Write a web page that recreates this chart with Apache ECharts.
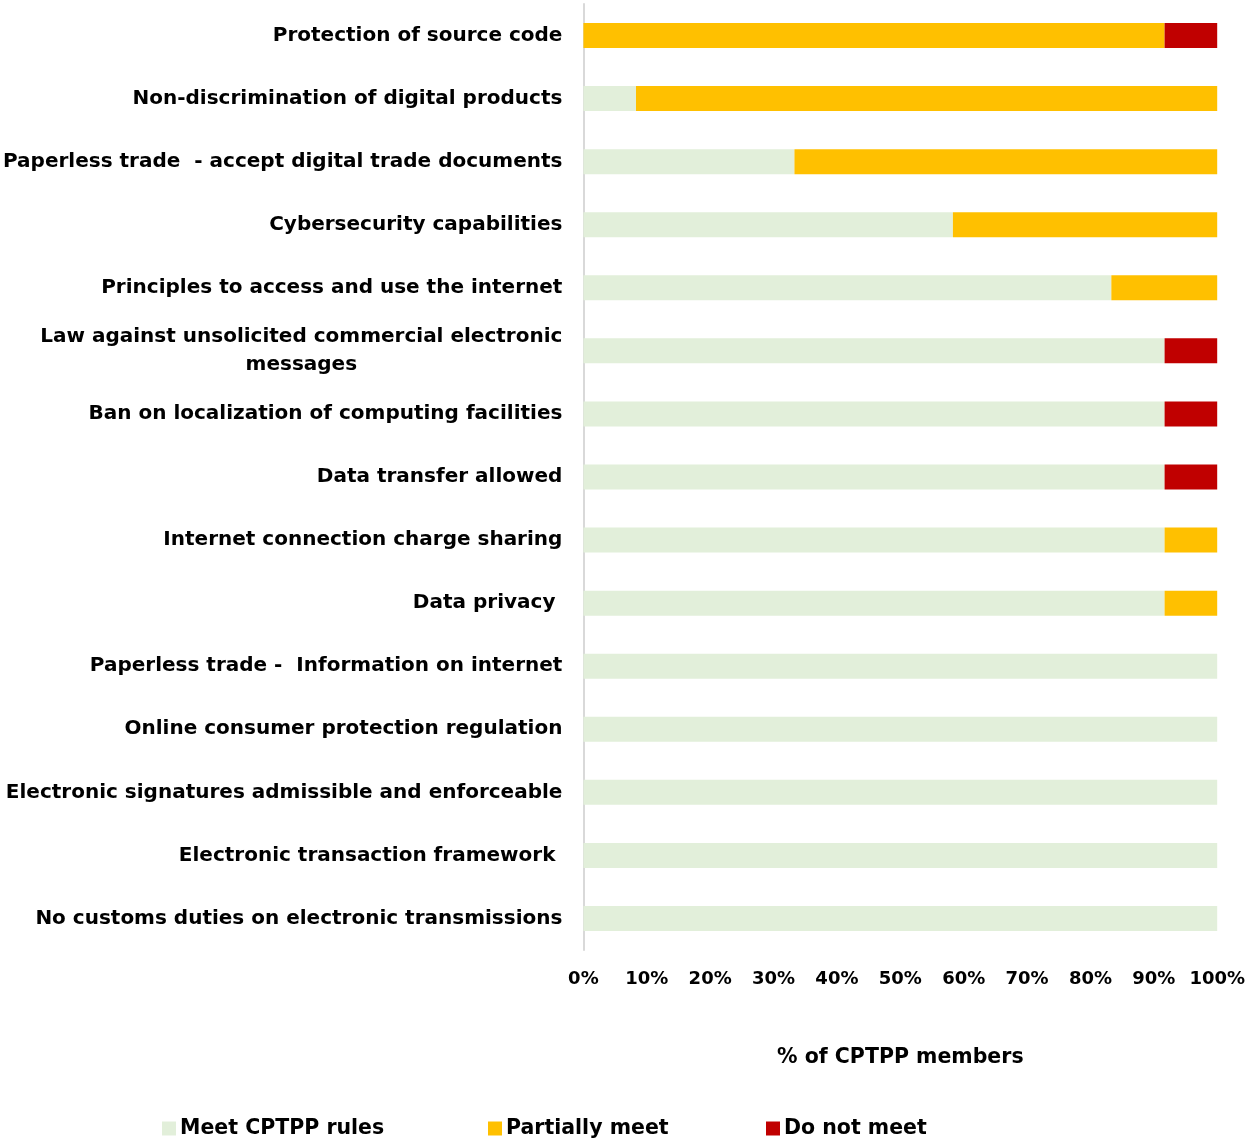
<!DOCTYPE html>
<html>
<head>
<meta charset="utf-8">
<script src="https://cdn.jsdelivr.net/npm/echarts@6/dist/echarts.min.js"></script>
<style>
html,body{margin:0;padding:0;background:#fff;}
#chart{width:1248px;height:1142px;}
</style>
</head>
<body>
<div id="chart"></div>
<script>
const categories = [
  "Protection of source code",
  "Non-discrimination of digital products",
  "Paperless trade  - accept digital trade documents",
  "Cybersecurity capabilities",
  "Principles to access and use the internet",
  "Law against unsolicited commercial electronic\nmessages",
  "Ban on localization of computing facilities",
  "Data transfer allowed",
  "Internet connection charge sharing",
  "Data privacy ",
  "Paperless trade -  Information on internet",
  "Online consumer protection regulation",
  "Electronic signatures admissible and enforceable",
  "Electronic transaction framework ",
  "No customs duties on electronic transmissions"
];
const meetValues    = [0, 8.3, 33.3, 58.3, 83.3, 91.7, 91.7, 91.7, 91.7, 91.7, 100, 100, 100, 100, 100];
const partialValues = [91.7, 91.7, 66.7, 41.7, 16.7, 0, 0, 0, 8.3, 8.3, 0, 0, 0, 0, 0];
const notMeetValues = [8.3, 0, 0, 0, 0, 8.3, 8.3, 8.3, 0, 0, 0, 0, 0, 0, 0];
const seriesNames = ["Meet CPTPP rules", "Partially meet", "Do not meet"];
const colors = ["#E2EFDA", "#FFC000", "#C00000"];
const xTicks = {min: 0, max: 100, interval: 10};

const FONT = "DejaVu Sans";
const chart = echarts.init(document.getElementById('chart'));
const mk = (name, data, color) => ({
  name, type: 'bar', stack: 'total', data, barWidth: 25,
  itemStyle: {color}, emphasis: {disabled: true}
});
const legendLefts = [162, 488, 766];
chart.setOption({
  animation: false,
  textStyle: {fontFamily: FONT},
  color: colors,
  grid: {left: 582, right: 30, top: 4, bottom: 192, containLabel: false},
  xAxis: {
    type: 'value', min: xTicks.min, max: xTicks.max, interval: xTicks.interval,
    axisLine: {show: false}, axisTick: {show: false}, splitLine: {show: false},
    axisLabel: {formatter: '{value}%', color: '#000', fontFamily: FONT, fontWeight: 'bold', fontSize: 18, margin: 20},
    name: '% of CPTPP members', nameLocation: 'middle', nameGap: 97,
    nameTextStyle: {color: '#000', fontFamily: FONT, fontWeight: 'bold', fontSize: 20.5}
  },
  yAxis: {
    type: 'category', data: categories, inverse: true,
    axisLine: {show: true, lineStyle: {color: '#D9D9D9', width: 2}},
    axisTick: {show: false},
    axisLabel: {
      color: '#000', margin: 21, fontFamily: FONT, fontWeight: 'bold', fontSize: 20,
      formatter: (v) => v.split('\n').map(s => '{c|' + s + '}').join('\n'),
      rich: {c: {align: 'center', color: '#000', fontFamily: FONT, fontWeight: 'bold', fontSize: 20, lineHeight: 28}}
    }
  },
  legend: seriesNames.map((n, i) => ({
    data: [n], top: 1118, left: legendLefts[i], itemWidth: 14, itemHeight: 14,
    icon: 'rect', padding: 0,
    textStyle: {color: '#000', fontFamily: FONT, fontWeight: 'bold', fontSize: 20.5, padding: [0, 0, 0, -1]}
  })),
  series: [
    mk(seriesNames[0], meetValues, colors[0]),
    mk(seriesNames[1], partialValues, colors[1]),
    mk(seriesNames[2], notMeetValues, colors[2])
  ]
});
</script>
</body>
</html>
